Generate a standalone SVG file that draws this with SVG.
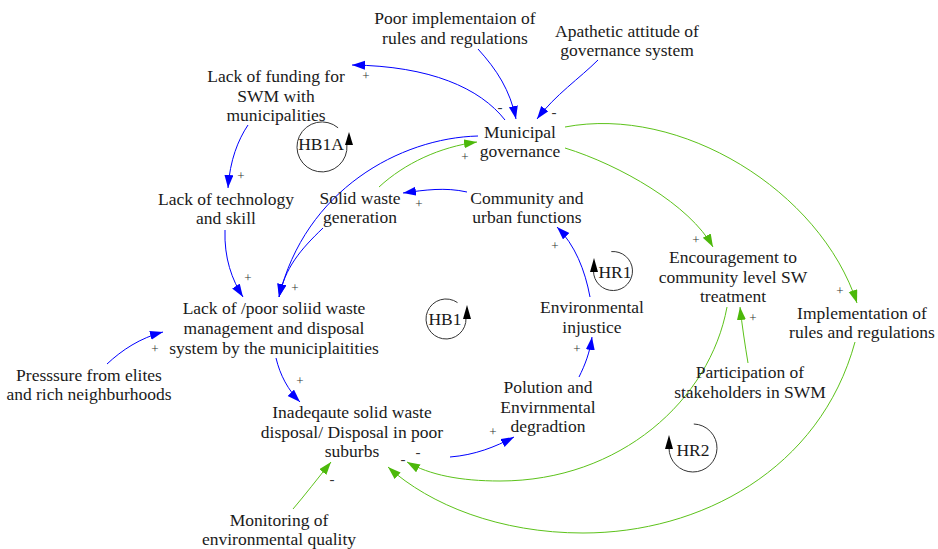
<svg xmlns="http://www.w3.org/2000/svg" width="938" height="549" viewBox="0 0 938 549" font-family="'Liberation Serif', 'Times New Roman', Tinos, 'DejaVu Serif', serif">
<style>
text{font-family:"Liberation Serif","Times New Roman",Tinos,"DejaVu Serif",serif;fill:#1a1a1a}
.n text{font-size:17.5px;text-anchor:middle}
.p{font-size:13px;text-anchor:middle;fill:#333}
.m{font-size:15px;text-anchor:middle;fill:#333}
.b{fill:none;stroke:#0000ff;stroke-width:1;marker-end:url(#ab)}
.g{fill:none;stroke:#5cc21a;stroke-width:1;marker-end:url(#ag)}
.loop path{fill:none;stroke:#333;stroke-width:1}
.loop polygon{fill:#000}
.loop text{font-size:17.5px;text-anchor:middle}
</style>
<defs>
<marker id="ab" markerWidth="14" markerHeight="10" refX="13" refY="4.5" orient="auto" markerUnits="userSpaceOnUse"><path d="M0,0 L13,4.5 L0,9 z" fill="#0000ff"/></marker>
<marker id="ag" markerWidth="14" markerHeight="10" refX="13" refY="4.5" orient="auto" markerUnits="userSpaceOnUse"><path d="M0,0 L13,4.5 L0,9 z" fill="#4cb80a"/></marker>
</defs>
<rect width="938" height="549" fill="#fff"/>
<g id="connectors">
<path class="b" d="M505,120 C480,88 430,66 352,65"/>
<path class="b" d="M478,49 C497,70 510,90 516,119"/>
<path class="b" d="M598,60 C580,78 555,95 537,119"/>
<path class="b" d="M478,136 C400,138 305,190 279,297"/>
<path class="b" d="M323,228 C300,250 285,268 279,297"/>
<path class="g" d="M379,187 C405,163 440,147 477,142"/>
<path class="b" d="M467,192 C445,187 425,190 403,193"/>
<path class="b" d="M248,125 C238,140 230,160 228,188"/>
<path class="b" d="M225,230 C224,258 232,280 243,297"/>
<path class="b" d="M107,364 C122,350 140,338 163,332"/>
<path class="b" d="M276,358 C280,375 288,390 300,402"/>
<path class="b" d="M450,457 C475,455 495,447 514,437"/>
<path class="b" d="M579,377 C585,365 590,352 592,337"/>
<path class="b" d="M590,297 C585,270 575,245 557,227"/>
<path class="g" d="M565,148 C620,165 690,205 713,247"/>
<path class="g" d="M565,127 C680,105 820,190 857,303"/>
<path class="g" d="M748,363 C745,345 742,325 740,307"/>
<path class="g" d="M727,307 C710,400 620,481 500,481 C460,481 430,475 407,462"/>
<path class="g" d="M855,342 C820,470 700,533 583,533 C500,533 430,505 388,467"/>
<path class="g" d="M293,509 C305,495 318,478 331,462"/>
<text class="p" x="366" y="80">+</text>
<text class="m" x="500" y="112">-</text>
<text class="m" x="554" y="117">-</text>
<text class="p" x="465" y="161">+</text>
<text class="p" x="241" y="180">+</text>
<text class="p" x="419" y="208">+</text>
<text class="p" x="248" y="282">+</text>
<text class="p" x="295" y="292">+</text>
<text class="p" x="155" y="353">+</text>
<text class="p" x="300" y="385">+</text>
<text class="p" x="493" y="436">+</text>
<text class="m" x="418" y="457">-</text>
<text class="m" x="403" y="464">-</text>
<text class="m" x="332" y="484">-</text>
<text class="p" x="577" y="353">+</text>
<text class="p" x="555" y="250">+</text>
<text class="p" x="696" y="244">+</text>
<text class="p" x="753" y="322">+</text>
<text class="p" x="840" y="295">+</text>
</g>
<g class="n">
<g id="poor-impl"><text x="455" y="24">Poor implementaion of</text><text x="455" y="44">rules and regulations</text></g>
<g id="apathetic"><text x="627" y="37">Apathetic attitude of</text><text x="627" y="56">governance system</text></g>
<g id="lack-funding"><text x="276" y="82">Lack of funding for</text><text x="276" y="102">SWM with</text><text x="276" y="121">municipalities</text></g>
<g id="municipal"><text x="520" y="138">Municipal</text><text x="520" y="157">governance</text></g>
<g id="lack-tech"><text x="226" y="205">Lack of technology</text><text x="226" y="224">and skill</text></g>
<g id="solid-waste"><text x="360" y="204">Solid waste</text><text x="360" y="223">generation</text></g>
<g id="community"><text x="527" y="204">Community and</text><text x="527" y="223">urban functions</text></g>
<g id="lack-poor"><text x="274" y="314">Lack of /poor soliid waste</text><text x="274" y="334">management and disposal</text><text x="274" y="354">system by the municiplaitities</text></g>
<g id="env-injustice"><text x="592" y="313">Environmental</text><text x="592" y="333">injustice</text></g>
<g id="encouragement"><text x="733" y="263">Encouragement to</text><text x="733" y="283">community level SW</text><text x="733" y="302">treatment</text></g>
<g id="implementation"><text x="862" y="319">Implementation of</text><text x="862" y="338">rules and regulations</text></g>
<g id="pressure"><text x="89" y="381">Presssure from elites</text><text x="89" y="400">and rich neighburhoods</text></g>
<g id="inadequate"><text x="352" y="418">Inadeqaute solid waste</text><text x="352" y="438">disposal/ Disposal in poor</text><text x="352" y="457">suburbs</text></g>
<g id="monitoring"><text x="279" y="526">Monitoring of</text><text x="279" y="545">environmental quality</text></g>
<g id="polution"><text x="548" y="393">Polution and</text><text x="548" y="413">Envirnmental</text><text x="548" y="432">degradtion</text></g>
<g id="participation"><text x="750" y="378">Participation of</text><text x="750" y="398">stakeholders in SWM</text></g>
</g>
<g id="HB1A" class="loop"><path d="M338.1,127.8 A25,25 0 1 0 346.9,144.8"/><polygon points="345,145 353,145 349,132"/><text x="321" y="150">HB1A</text></g>
<g id="HB1" class="loop"><path d="M457.5,302.6 A20,20 0 1 0 466,318"/><polygon points="463,319 471,319 467,305"/><text x="445" y="325">HB1</text></g>
<g id="HR1" class="loop"><path d="M611.3,251.6 A19.5,19.5 0 1 1 593.5,271"/><polygon points="590,272 598,272 594,258"/><text x="615" y="278">HR1</text></g>
<g id="HR2" class="loop"><path d="M693.8,424 A24,24 0 1 1 669,448"/><polygon points="665,449 673,449 669,435"/><text x="693" y="456">HR2</text></g>
</svg>
